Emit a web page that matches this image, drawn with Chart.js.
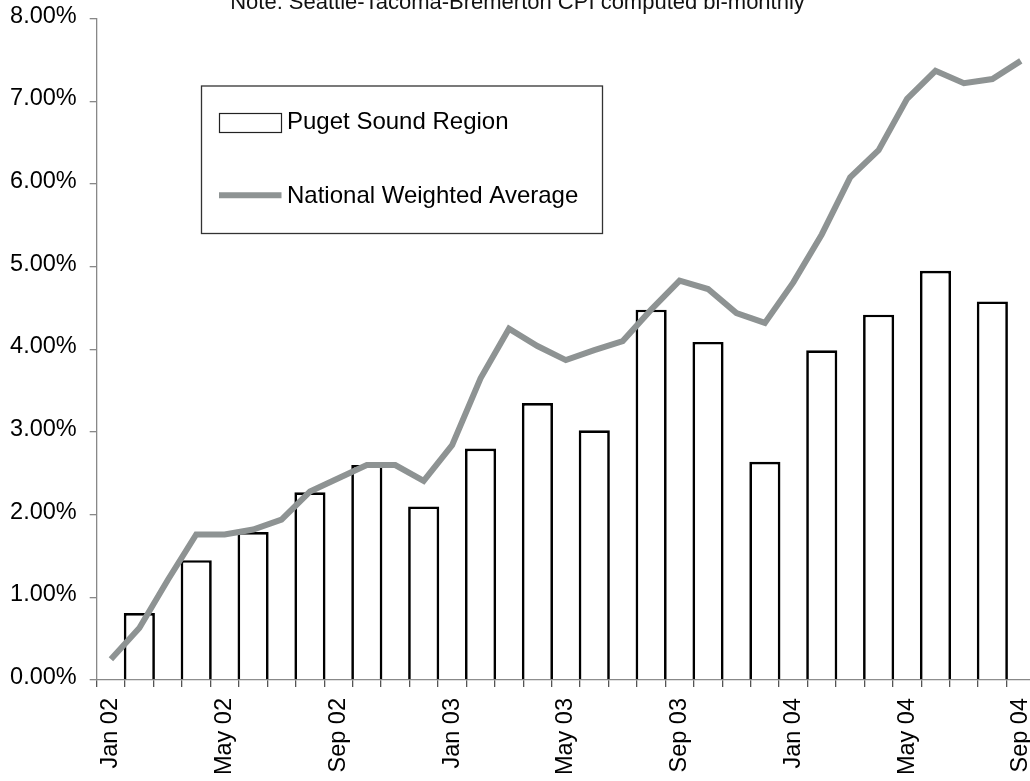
<!DOCTYPE html>
<html>
<head>
<meta charset="utf-8">
<script src="https://cdn.jsdelivr.net/npm/chart.js@4"></script>
<style>
  html, body { margin: 0; padding: 0; width: 1030px; height: 781px; overflow: hidden; background: #fff; }
  #wrap { position: absolute; left: 0; top: -10px; width: 1070px; height: 791px; }
  canvas { display: block; }
</style>
</head>
<body>
<div id="wrap"><canvas id="cpi" width="1070" height="791"></canvas></div>
<script>
// Monthly categories on the x axis
const months = [
  'Jan 02', 'Feb 02', 'Mar 02', 'Apr 02', 'May 02', 'Jun 02', 'Jul 02', 'Aug 02', 'Sep 02', 'Oct 02', 'Nov 02', 'Dec 02',
  'Jan 03', 'Feb 03', 'Mar 03', 'Apr 03', 'May 03', 'Jun 03', 'Jul 03', 'Aug 03', 'Sep 03', 'Oct 03', 'Nov 03', 'Dec 03',
  'Jan 04', 'Feb 04', 'Mar 04', 'Apr 04', 'May 04', 'Jun 04', 'Jul 04', 'Aug 04', 'Sep 04'
];

// National weighted average, monthly (percent)
const nationalAvg = [
  0.25, 0.63, 1.21, 1.76, 1.76, 1.82, 1.94, 2.28, 2.44, 2.60, 2.60, 2.41,
  2.84, 3.65, 4.25, 4.04, 3.87, 3.99, 4.10, 4.48, 4.83, 4.73, 4.44, 4.32,
  4.81, 5.39, 6.08, 6.41, 7.03, 7.37, 7.22, 7.27, 7.49
];

// Seattle-Tacoma-Bremerton CPI is published bi-monthly
const pugetMonths = [
  'Feb 02', 'Apr 02', 'Jun 02', 'Aug 02', 'Oct 02', 'Dec 02',
  'Feb 03', 'Apr 03', 'Jun 03', 'Aug 03', 'Oct 03', 'Dec 03',
  'Feb 04', 'Apr 04', 'Jun 04', 'Aug 04'
];
const pugetValues = [
  0.81, 1.45, 1.79, 2.27, 2.60, 2.10,
  2.80, 3.35, 3.02, 4.48, 4.09, 2.64,
  3.99, 4.42, 4.95, 4.58
];

// Month labels shown along the axis
const shownMonthLabels = ['Jan 02', 'May 02', 'Sep 02', 'Jan 03', 'May 03', 'Sep 03', 'Jan 04', 'May 04', 'Sep 04'];

const FONT = '"Liberation Sans", Arial, sans-serif';
const LINE_GREY = '#8e9393';

// Bar series aligned to the monthly categories (gaps in the off months)
const pugetSeries = months.map(m => {
  const k = pugetMonths.indexOf(m);
  return k < 0 ? null : pugetValues[k];
});

// Framed legend sitting inside the plot area
const framedLegend = {
  id: 'framedLegend',
  afterDraw(chart) {
    const ctx = chart.ctx;
    const bar = chart.data.datasets.find(d => d.type === 'bar');
    const line = chart.data.datasets.find(d => d.type === 'line');
    ctx.save();
    // frame
    ctx.fillStyle = '#fff';
    ctx.fillRect(201.5, 96, 401, 147.5);
    ctx.strokeStyle = '#333';
    ctx.lineWidth = 1.3;
    ctx.strokeRect(201.5, 96, 401, 147.5);
    // bar swatch
    ctx.fillStyle = '#fff';
    ctx.fillRect(219.5, 123.5, 62, 19);
    ctx.strokeStyle = '#222';
    ctx.lineWidth = 1.2;
    ctx.strokeRect(219.5, 123.5, 62, 19);
    // line swatch
    ctx.strokeStyle = LINE_GREY;
    ctx.lineWidth = 6;
    ctx.beginPath();
    ctx.moveTo(219, 205.3);
    ctx.lineTo(281.5, 205.3);
    ctx.stroke();
    // labels
    ctx.fillStyle = '#000';
    ctx.font = '24px ' + FONT;
    ctx.textAlign = 'left';
    ctx.textBaseline = 'alphabetic';
    ctx.fillText(bar.label, 287, 138.5);
    ctx.fillText(line.label, 287, 212.7);
    ctx.restore();
  }
};

new Chart(document.getElementById('cpi'), {
  type: 'bar',
  data: {
    labels: months,
    datasets: [
      {
        type: 'line',
        label: 'National Weighted Average',
        data: nationalAvg,
        borderColor: LINE_GREY,
        backgroundColor: LINE_GREY,
        borderWidth: 6,
        pointRadius: 0,
        pointHoverRadius: 0,
        fill: false,
        tension: 0,
        borderJoinStyle: 'miter',
        borderCapStyle: 'butt',
        order: 0
      },
      {
        type: 'bar',
        label: 'Puget Sound Region',
        data: pugetSeries,
        backgroundColor: '#fff',
        borderColor: '#000',
        borderWidth: 2.7,
        borderSkipped: 'start',
        barPercentage: 1.095,
        categoryPercentage: 1,
        order: 1
      }
    ]
  },
  options: {
    responsive: false,
    animation: false,
    devicePixelRatio: 1,
    layout: { padding: { left: 0, right: 35, top: 0, bottom: 0 } },
    plugins: {
      legend: { display: false },
      tooltip: { enabled: false },
      title: {
        display: true,
        text: 'Note: Seattle-Tacoma-Bremerton CPI computed bi-monthly',
        color: '#111',
        font: { family: FONT, size: 22, weight: 'normal' },
        padding: { top: 0, bottom: 2.3 }
      }
    },
    scales: {
      x: {
        type: 'category',
        offset: true,
        grid: {
          offset: true,
          drawOnChartArea: false,
          drawTicks: true,
          tickLength: 7,
          color: '#555',
          lineWidth: 1.3
        },
        border: { display: true, color: '#888', width: 1.3 },
        ticks: {
          autoSkip: false,
          minRotation: 90,
          maxRotation: 90,
          padding: 11,
          color: '#000',
          font: { family: FONT, size: 23.5 },
          callback(value, index) {
            const lab = months[index];
            return shownMonthLabels.includes(lab) ? lab : '';
          }
        },
        afterFit(scale) { scale.height = 101; }
      },
      y: {
        min: 0,
        max: 8,
        grid: {
          drawOnChartArea: false,
          drawTicks: true,
          tickLength: 7,
          color: '#888',
          lineWidth: 1.3
        },
        border: { display: true, color: '#888', width: 1.3 },
        ticks: {
          stepSize: 1,
          padding: 13,
          color: '#000',
          // tight line height with a blank second line lifts each label slightly above its tick
          font: { family: FONT, size: 23.5, lineHeight: 0.21 },
          callback: v => [v.toFixed(2) + '%', '']
        },
        afterFit(scale) { scale.width = 96.7; }
      }
    }
  },
  plugins: [framedLegend]
});
</script>
</body>
</html>
